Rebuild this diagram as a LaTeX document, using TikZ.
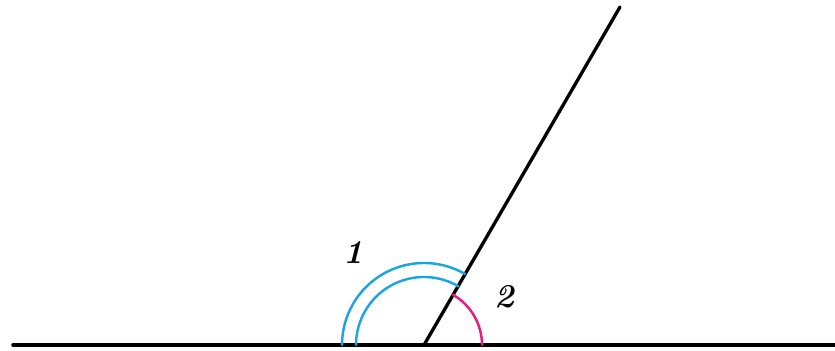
\documentclass[tikz,border=0pt]{standalone}
\usetikzlibrary{calc}
\definecolor{arcblue}{RGB}{30,165,225}
\definecolor{arcpink}{RGB}{225,30,125}
\begin{document}
\begin{tikzpicture}[x=0.02cm, y=0.02cm, line join=round, line cap=round]
    \useasboundingbox (0,0) rectangle (835,351);
    % 顶点与端点
    \coordinate (O) at (424,6);
    \coordinate (L) at (13,6);
    \coordinate (R) at (835,6);
    \coordinate (P) at (620,344);
    
    % 直线与射线
    \draw[line width=2pt] (L) -- (R);
    \draw[line width=1.9pt] (O) -- (P);
    
    % 角 1（两条弧）
    \draw[arcblue, line width=1.4pt] ($(O)+(60:82)$) arc (60:180:82);
    \draw[arcblue, line width=1.4pt] ($(O)+(60:68)$) arc (60:180:68);
    
    % 角 2
    \draw[arcpink, line width=1.4pt] ($(O)+(0:58)$) arc (0:60:58);
    
    \node (n1) at (353,99) {\fontsize{19}{22}\selectfont\bfseries\itshape 1};
    \node (n2) at (504,54) {\fontsize{19}{22}\selectfont\bfseries\itshape 2};
\end{tikzpicture}
\end{document}
